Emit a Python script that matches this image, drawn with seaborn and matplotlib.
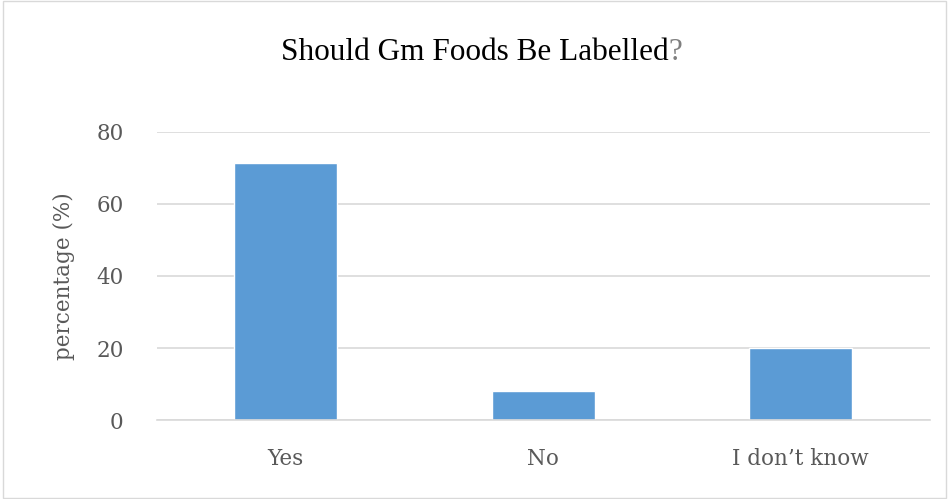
import matplotlib
matplotlib.use("Agg")
import matplotlib.pyplot as plt
import seaborn as sns
import pandas as pd
from matplotlib.patches import Rectangle

# survey answers (percent)
answers = ["Yes", "No", "I don\u2019t know"]
percent = [71.3, 8.0, 20.0]
y_ticks = [0, 20, 40, 60, 80]

df = pd.DataFrame({"answer": answers, "percent": percent})

sns.set_style("white")
plt.rcParams["font.family"] = ["Liberation Serif", "DejaVu Serif"]

fig = plt.figure(figsize=(9.49, 4.99), dpi=100)
ax = fig.add_axes([0.1654, 0.1583, 0.8141, 0.5772])

sns.barplot(data=df, x="answer", y="percent", color="#5B9BD5", saturation=1,
            width=0.4, ax=ax)

ax.set_ylim(0, 80)
ax.set_xlim(-0.5, 2.5)
ax.set_yticks(y_ticks)
ax.yaxis.grid(True, color="#D9D9D9", linewidth=1.2)
ax.set_axisbelow(True)
for s in ["top", "right", "left"]:
    ax.spines[s].set_visible(False)
ax.spines["bottom"].set_color("#D9D9D9")
ax.spines["bottom"].set_linewidth(1.2)

# axis text in a wider serif, grey like the original
tick_font = {"family": "DejaVu Serif", "size": 15.5}
ax.tick_params(axis="both", length=0, labelcolor="#595959")
ax.tick_params(axis="y", pad=24)
ax.tick_params(axis="x", pad=20)
for lab in ax.get_xticklabels() + ax.get_yticklabels():
    lab.set_fontfamily("DejaVu Serif")
    lab.set_fontsize(15.5)
ax.set_xlabel("")
ax.set_ylabel("percentage (%)", fontdict=tick_font, color="#595959", labelpad=15)

# title, with the question mark in grey
t1 = fig.text(281 / 949, 0.88, "Should Gm Foods Be Labelled", ha="left", va="baseline",
              fontsize=22.5, color="black")
fig.canvas.draw()
bb = t1.get_window_extent().transformed(fig.transFigure.inverted())
fig.text(bb.x1, 0.88, "?", ha="left", va="baseline", fontsize=22.5, color="#7F7F7F")

# light border around the chart area
fig.patches.append(Rectangle((0.003, 0.003), 0.994, 0.994, transform=fig.transFigure,
                             fill=False, edgecolor="#D9D9D9", linewidth=1))

fig.savefig("out.png", dpi=100)
